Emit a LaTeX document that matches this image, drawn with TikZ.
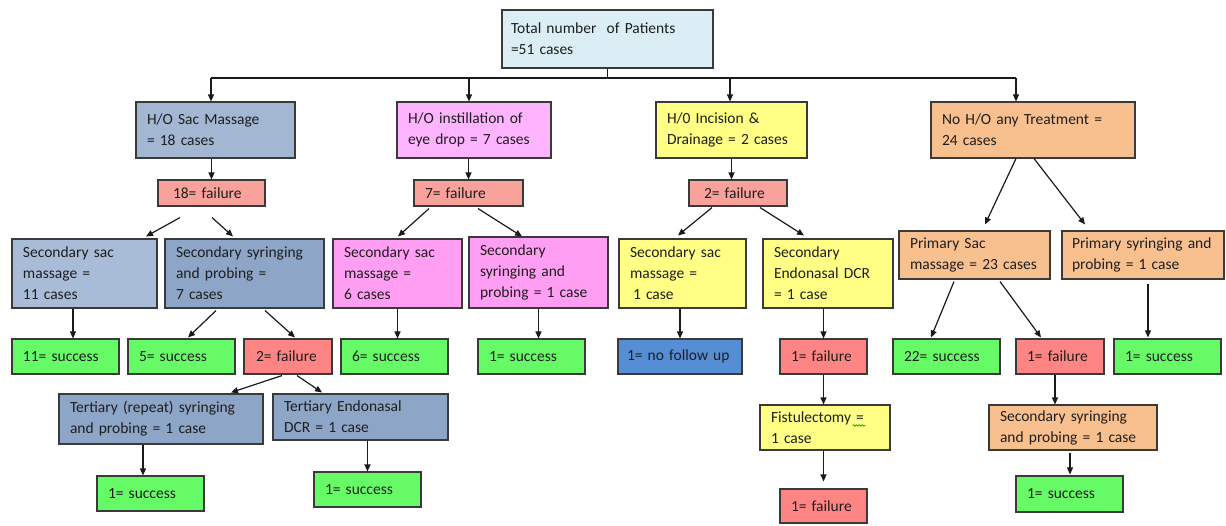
\documentclass[tikz,border=0pt]{standalone}
\usepackage{fontspec}
\setmainfont{Carlito}
\usepackage{tikz}
\usetikzlibrary{arrows.meta, calc, decorations.pathmorphing}
\definecolor{totcol}{HTML}{DCEEF5}
\definecolor{sacA}{HTML}{A3B7D3}
\definecolor{sacB}{HTML}{A8BCD8}
\definecolor{sacC}{HTML}{8DA5C6}
\definecolor{pinkA}{HTML}{FFB4FF}
\definecolor{pinkB}{HTML}{FF9EF2}
\definecolor{yel}{HTML}{FFFF85}
\definecolor{orng}{HTML}{F9C08F}
\definecolor{failA}{HTML}{F9A29C}
\definecolor{failB}{HTML}{FF8585}
\definecolor{succ}{HTML}{66FA66}
\definecolor{nfu}{HTML}{568ED6}
\definecolor{boxline}{HTML}{3A3A3A}
\definecolor{arrcol}{HTML}{1A1A1A}
\definecolor{txtcol}{HTML}{1E1E1E}
\hyphenpenalty=10000

\begin{document}
\begin{tikzpicture}[x=1pt, y=-1pt,
  box/.style={draw=boxline, line width=1.1pt, fill=#1, text=txtcol,
    font=\fontsize{15.5}{21}\selectfont, align=left, inner xsep=11pt, inner ysep=0pt},
  arr/.style={-{Triangle[length=7pt, width=6pt]}, line width=1.2pt, draw=arrcol},
]
  \useasboundingbox (0,0) rectangle (1226,525);

  % root
  \node[box=totcol, inner xsep=9pt, text width=193pt, minimum height=58pt] (tot) at (607.5,39) {Total number~ of Patients\\=51 cases};

  % previous treatment
  \node[box=sacA, text width=137pt, minimum height=56pt] (sac) at (215.5,130) {H/O Sac Massage\\= 18 cases};
  \node[box=pinkA, text width=132pt, minimum height=56pt] (drop) at (474,130) {H/O instillation of\\eye drop = 7 cases};
  \node[box=yel, text width=129pt, minimum height=56pt] (incis) at (731.5,130) {H/0 Incision \&\\Drainage = 2 cases};
  \node[box=orng, text width=182pt, minimum height=56pt] (none) at (1033,130) {No H/O any Treatment =\\24 cases};

  \node[box=failA, inner xsep=15pt, text width=77pt, minimum height=26pt] (f18) at (211.5,193) {18= failure};
  \node[box=failA, text width=87pt, minimum height=26pt] (f7) at (468.5,193) {7= failure};
  \node[box=failA, inner xsep=15pt, text width=68pt, minimum height=26pt] (f2) at (738,193) {2= failure};

  % secondary / primary procedures
  \node[box=sacB, text width=123pt, minimum height=69pt] (s1) at (84.5,273.5) {Secondary sac\\massage =\\11 cases};
  \node[box=sacC, text width=137pt, minimum height=69pt] (s2) at (244.5,273.5) {Secondary syringing\\and probing =\\7 cases};
  \node[box=pinkB, text width=107pt, minimum height=69pt] (s3) at (397.5,273.5) {Secondary sac\\massage =\\6 cases};
  \node[box=pinkB, text width=117pt, minimum height=71pt] (s4) at (538.5,272.5) {Secondary\\syringing and\\probing = 1 case};
  \node[box=yel, text width=105pt, minimum height=69pt] (s5) at (682.5,273.5) {Secondary sac\\massage =\\\hspace{3pt}1 case};
  \node[box=yel, text width=108pt, minimum height=69pt] (s6) at (828,273.5) {Secondary\\Endonasal DCR\\= 1 case};
  \node[box=orng, text width=129pt, minimum height=48pt] (p1) at (974.5,255) {Primary Sac\\massage = 23 cases};
  \node[box=orng, inner xsep=10pt, text width=142pt, minimum height=48pt] (p2) at (1143,255) {Primary syringing and\\probing = 1 case};

  % outcomes
  \node[box=succ, text width=85pt, minimum height=35pt] (r11) at (65.5,356.5) {11= success};
  \node[box=succ, text width=85pt, minimum height=35pt] (r5) at (181.5,356.5) {5= success};
  \node[box=failB, inner xsep=12pt, text width=64pt, minimum height=35pt] (rf2) at (288,356.5) {2= failure};
  \node[box=succ, text width=85pt, minimum height=35pt] (r6) at (394.5,356.5) {6= success};
  \node[box=succ, text width=85pt, minimum height=35pt] (r1a) at (531.5,356.5) {1= success};
  \node[box=nfu, inner xsep=9pt, text width=106pt, minimum height=35pt] (rnf) at (680,356.5) {1= no follow up};
  \node[box=failB, text width=65pt, minimum height=35pt] (rf1) at (823.5,356.5) {1= failure};
  \node[box=succ, text width=85pt, minimum height=35pt] (r22) at (946.5,356.5) {22= success};
  \node[box=failB, text width=66pt, minimum height=35pt] (rf1b) at (1060,356.5) {1= failure};
  \node[box=succ, text width=85pt, minimum height=35pt] (r1b) at (1167.5,356.5) {1= success};

  % further procedures
  \node[box=sacC, text width=182pt, minimum height=50pt] (t1) at (161,419) {Tertiary (repeat) syringing\\and probing = 1 case};
  \node[box=sacC, text width=153pt, minimum height=46pt] (t2) at (360.5,417) {Tertiary Endonasal\\DCR = 1 case};
  \node[box=yel, text width=108pt, minimum height=45pt] (fist) at (825,427.5) {Fistulectomy =\\1 case};
  \node[box=orng, text width=146pt, minimum height=45pt] (s7) at (1073,427.5) {Secondary syringing\\and probing = 1 case};

  \node[box=succ, text width=85pt, minimum height=35pt] (u1) at (150.5,493.5) {1= success};
  \node[box=succ, text width=85pt, minimum height=35pt] (u2) at (367.5,489.5) {1= success};
  \node[box=failB, text width=65pt, minimum height=34pt] (uf) at (823.5,506) {1= failure};
  \node[box=succ, text width=85pt, minimum height=36pt] (u3) at (1069.5,494) {1= success};

  \draw[green!60!black, line width=0.6pt, decorate, decoration={snake, amplitude=0.8pt, segment length=3pt}]
    ([shift={(93,21)}]fist.north west) -- ([shift={(106,21)}]fist.north west);

  % bus from the root
  \coordinate (b1) at (211,78);
  \coordinate (b2) at (469,78);
  \coordinate (b3) at (730,78);
  \coordinate (b4) at (1016,78);
  \draw[line width=1.2pt, draw=arrcol] (tot.south) -- (tot.south |- b1);
  \draw[line width=1.2pt, draw=arrcol] (b1) -- (b4);
  \foreach \c/\n in {b1/sac, b2/drop, b3/incis, b4/none}
    \draw[arr] (\c) -- (\c |- \n.north);

  \draw[arr] (f18.north |- sac.south) -- (f18.north);
  \draw[arr] (f7.north |- drop.south) -- (f7.north);
  \draw[arr] (incis.south) -- (incis.south |- f2.north);

  \draw[arr] ([shift={(-31.5,11)}]f18.south) -- ([shift={(61.5,-2)}]s1.north);
  \draw[arr] ([shift={(0.5,11)}]f18.south) -- ([shift={(-11.5,-2)}]s2.north);
  \draw[arr] ([shift={(-39.5,2)}]f7.south) -- ([shift={(0.5,-2)}]s3.north);
  \draw[arr] ([shift={(9.5,2)}]f7.south) -- ([shift={(-16.5,0)}]s4.north);
  \draw[arr] ([shift={(-26,1)}]f2.south) -- ([shift={(-4.5,-3)}]s5.north);
  \draw[arr] ([shift={(22,1)}]f2.south) -- ([shift={(-24,-3)}]s6.north);
  \draw[arr] ([xshift=-17pt]none.south) -- ([shift={(10.5,-6)}]p1.north);
  \draw[arr] ([xshift=1pt]none.south) -- ([shift={(-58,-6)}]p2.north);

  \draw[arr] ([xshift=-11.5pt]s1.south) -- ([xshift=7.5pt]r11.north);
  \draw[arr] ([shift={(-28.5,2)}]s2.south) -- ([shift={(6.5,-1)}]r5.north);
  \draw[arr] ([shift={(20.5,2)}]s2.south) -- ([shift={(7,-1)}]rf2.north);
  \draw[arr] (s3.south) -- (s3.south |- r6.north);
  \draw[arr] (s4.south) -- (s4.south |- r1a.north);
  \draw[arr] (rnf.north |- s5.south) -- (rnf.north);
  \draw[arr] (rf1.north |- s6.south) -- (rf1.north);
  \draw[arr] ([shift={(-20.5,2)}]p1.south) -- ([shift={(-15.5,-1)}]r22.north);
  \draw[arr] ([shift={(25.5,2)}]p1.south) -- ([shift={(-19,-1)}]rf1b.north);
  \draw[arr] ([shift={(5,4)}]p2.south) -- ([shift={(-19.5,-1)}]r1b.north);

  \draw[arr] ([shift={(-6,1)}]rf2.south) -- ([shift={(70,-1)}]t1.north);
  \draw[arr] ([shift={(9,1)}]rf2.south) -- ([shift={(-38.5,-1)}]t2.north);
  \draw[arr] (rf1.south) -- (rf1.south |- fist.north);
  \draw[arr] ([xshift=-5pt]rf1b.south) -- ([xshift=-18pt]s7.north);

  \draw[arr] ([xshift=-18pt]t1.south) -- ([xshift=-7.5pt]u1.north);
  \draw[arr] (u2.north |- t2.south) -- (u2.north);
  \draw[arr] (uf.north |- fist.south) -- ([yshift=7pt]uf.north);
  \draw[arr] ([shift={(-3,2)}]s7.south) -- ([shift={(0.5,-1)}]u3.north);
\end{tikzpicture}
\end{document}
